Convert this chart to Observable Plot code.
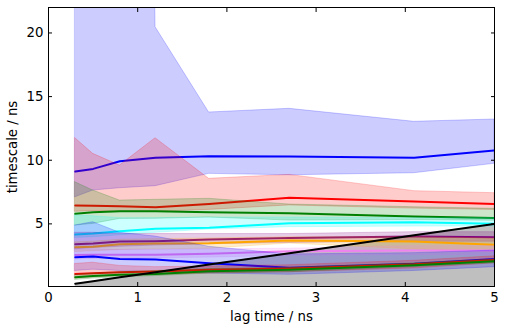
<!DOCTYPE html>
<html><head><meta charset="utf-8">
<script src="https://cdn.jsdelivr.net/npm/d3@7"></script>
<script src="https://cdn.jsdelivr.net/npm/@observablehq/plot@0.6"></script>
<style>body{margin:0;background:#fff}</style>
</head><body><div id="chart"></div>
<script>
const lags = [0.3, 0.5, 0.8, 1.2, 1.8, 2.7, 4.1, 5.0];
const colors = ["blue", "red", "green", "cyan", "purple", "orange", "violet", "blue", "red", "green"];
const means = [
  [9.11, 9.32, 9.92, 10.19, 10.31, 10.29, 10.19, 10.76],
  [6.44, 6.42, 6.39, 6.31, 6.57, 7.05, 6.76, 6.57],
  [5.79, 5.92, 5.99, 5.99, 5.92, 5.84, 5.58, 5.47],
  [4.16, 4.24, 4.42, 4.61, 4.69, 5.05, 5.13, 5.00],
  [3.40, 3.45, 3.61, 3.64, 3.77, 3.90, 4.00, 3.95],
  [3.17, 3.20, 3.40, 3.45, 3.48, 3.69, 3.61, 3.35],
  [2.55, 2.57, 2.57, 2.57, 2.65, 2.85, 2.91, 2.91],
  [2.38, 2.43, 2.25, 2.20, 1.91, 1.55, 1.86, 2.25],
  [1.07, 1.12, 1.20, 1.26, 1.39, 1.50, 1.82, 2.17],
  [0.81, 0.90, 1.00, 1.07, 1.28, 1.39, 1.75, 2.07]
];
const lowers = [
  [7.09, 7.62, 7.80, 7.96, 8.93, 8.82, 8.98, 9.72],
  [5.95, 6.00, 5.95, 5.95, 6.10, 6.45, 6.20, 6.10],
  [4.87, 5.00, 5.39, 5.40, 5.50, 5.26, 5.30, 5.25],
  [3.90, 3.95, 4.10, 4.30, 4.55, 4.74, 4.79, 4.79],
  [3.00, 3.10, 3.20, 3.30, 3.40, 3.50, 3.60, 3.60],
  [2.80, 2.85, 2.95, 3.00, 3.05, 3.45, 3.00, 2.80],
  [2.20, 2.25, 2.30, 2.30, 2.35, 2.50, 2.55, 2.55],
  [1.30, 1.40, 1.30, 1.20, 1.10, 1.00, 1.30, 1.60],
  [0.70, 0.80, 0.90, 1.00, 1.10, 1.20, 1.50, 1.90],
  [0.60, 0.70, 0.80, 0.90, 1.10, 1.20, 1.60, 1.90]
];
const uppers = [
  [150, 200, 250, 20.45, 13.75, 14.04, 13.02, 13.20],
  [11.73, 10.50, 9.58, 11.73, 8.54, 8.85, 7.57, 7.41],
  [8.27, 7.62, 6.83, 6.89, 6.97, 6.52, 6.31, 6.18],
  [5.66, 5.60, 5.45, 5.45, 5.50, 5.50, 5.45, 5.45],
  [4.30, 4.30, 4.20, 4.20, 4.20, 4.20, 4.35, 4.35],
  [3.55, 3.60, 3.75, 3.80, 3.85, 3.95, 3.95, 3.85],
  [3.00, 3.00, 2.95, 2.95, 3.00, 3.05, 3.25, 3.25],
  [4.87, 5.13, 4.30, 4.00, 3.20, 2.60, 2.70, 2.90],
  [1.85, 1.95, 1.70, 1.60, 1.65, 1.75, 2.10, 2.45],
  [1.00, 1.10, 1.20, 1.30, 1.45, 1.55, 1.90, 2.20]
];
const xTicks = [0, 1, 2, 3, 4, 5];
const yTicks = [5, 10, 15, 20];
const xLabel = "lag time / ns";
const yLabel = "timescale / ns";

const marks = [];
// lag-time region (timescales below the lag time)
marks.push(Plot.areaY(lags, {x: d => d, y1: () => 0, y2: d => d, fill: "#808080", fillOpacity: 0.5, clip: true}));
colors.forEach((c, k) => {
  const data = lags.map((lag, i) => ({lag, m: means[k][i], lo: lowers[k][i], hi: uppers[k][i]}));
  marks.push(Plot.areaY(data, {x: "lag", y1: "lo", y2: "hi", fill: c, fillOpacity: 0.2, stroke: c, strokeOpacity: 0.2, strokeWidth: 1, clip: true}));
  marks.push(Plot.line(data, {x: "lag", y: "m", stroke: c, strokeWidth: 2, clip: true}));
});
marks.push(Plot.line(lags, {x: d => d, y: d => d, stroke: "black", strokeWidth: 2, clip: true}));
marks.push(
  Plot.axisX(xTicks, {anchor: "bottom", tickSize: -4, tickPadding: 10, label: null}),
  Plot.axisX(xTicks, {anchor: "top", tickSize: -4, tickFormat: () => "", label: null}),
  Plot.axisY(yTicks, {anchor: "left", tickSize: -4, tickPadding: 9, label: null}),
  Plot.axisY(yTicks, {anchor: "right", tickSize: -4, tickFormat: () => "", label: null}),
  Plot.frame({stroke: "black", strokeWidth: 1}),
  Plot.text([xLabel], {text: d => d, frameAnchor: "bottom", textAnchor: "middle", lineAnchor: "bottom", dy: 34}),
  Plot.text([yLabel], {text: d => d, frameAnchor: "left", textAnchor: "middle", lineAnchor: "middle", rotate: -90, dx: -36})
);

const chart = Plot.plot({
  width: 505,
  height: 330,
  marginLeft: 48,
  marginRight: 11,
  marginTop: 7,
  marginBottom: 44,
  x: {domain: [0, 5], axis: null},
  y: {domain: [0.08, 22], axis: null},
  style: {fontFamily: "DejaVu Sans", fontSize: "13.3px", color: "black", background: "white"},
  marks
});
document.getElementById("chart").appendChild(chart);
</script>
</body></html>
